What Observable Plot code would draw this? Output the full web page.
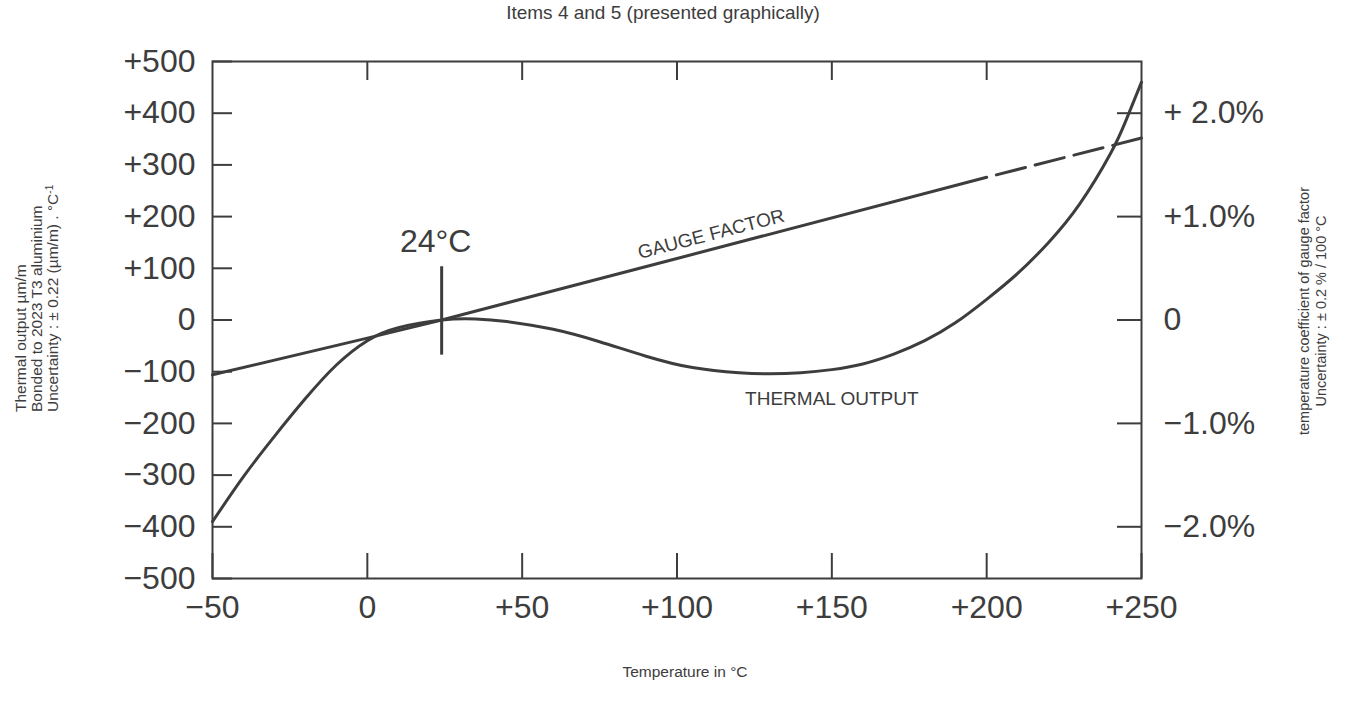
<!DOCTYPE html>
<html><head><meta charset="utf-8">
<script src="https://cdn.jsdelivr.net/npm/d3@7"></script>
<script src="https://cdn.jsdelivr.net/npm/@observablehq/plot@0.6"></script>
<style>html,body{margin:0;padding:0;background:#fff;}</style>
</head><body><div id="chart"></div>
<script>
// ---- data ----
const thermalT = [-50,-40,-30,-20,-10,0,10,24,35,45,60,75,90,105,120,130,140,150,160,170,180,190,200,210,220,230,240,245,250];
const thermalV = [-390,-303,-225,-152,-87,-40,-15,0,2,-3,-18,-42,-70,-92,-102,-104,-102,-96,-85,-66,-40,-5,40,90,150,224,322,386,460];
const gaugeT = [-50, 0, 24, 100, 200, 250];
const gaugeV = [-106, -35, 0, 119, 276, 352];
const gaugeMeasuredUpTo = 200;           // dashed beyond this temperature
const tempTicks = [-50, 0, 50, 100, 150, 200, 250];
const tempTickLabels = ["\u221250", "0", "+50", "+100", "+150", "+200", "+250"];
const thermalTicks = [500, 400, 300, 200, 100, 0, -100, -200, -300, -400, -500];
const thermalTickLabels = ["+500","+400","+300","+200","+100","0","\u2212100","\u2212200","\u2212300","\u2212400","\u2212500"];
const pctTicks = [2, 1, 0, -1, -2];
const pctTickLabels = ["+ 2.0%", "+1.0%", "0", "\u22121.0%", "\u22122.0%"];
const pctToThermal = 200;                // 1 % of gauge factor aligned with 200 µm/m
const refTemp = [24];
const refTempSpan = [-68, 103];
const refTempLabel = ["24°C"];
const refTempLabelV = [132];
const curveLabels = ["GAUGE FACTOR", "THERMAL OUTPUT"];
const curveLabelT = [111, 150];
const curveLabelV = [166, -152];
const curveLabelRotate = [-14.5, 0];

const titleText = "Items 4 and 5 (presented graphically)";
const xTitle = "Temperature in °C";
const yTitleLines = ["Thermal output \u00b5m/m", "Bonded to 2023 T3 aluminium", "Uncertainty : \u00b1 0.22 (\u00b5m/m) . °C"];
const y2TitleLines = ["temperature coefficient of gauge factor", "Uncertainty : \u00b1 0.2 % / 100 °C"];

// ---- build ----
const ink = "#3d3d3d";
const font = "'Liberation Sans', Arial, Helvetica, sans-serif";
const thermal = thermalT.map((t, i) => ({t, v: thermalV[i]}));
const gauge = gaugeT.map((t, i) => ({t, v: gaugeV[i]}));
const gaugeSolid = gauge.filter(d => d.t <= gaugeMeasuredUpTo);
const gaugeDashed = gauge.filter(d => d.t >= gaugeMeasuredUpTo);
const curveAnn = curveLabels.map((label, i) => ({label, t: curveLabelT[i], v: curveLabelV[i], r: curveLabelRotate[i]}));
const pctPos = pctTicks.map(p => p * pctToThermal);

const chart = Plot.plot({
  width: 1354, height: 709,
  marginLeft: 212, marginRight: 213, marginTop: 61, marginBottom: 131,
  style: {fontFamily: font, color: ink, background: "#fff", overflow: "visible"},
  x: {domain: [-50, 250]},
  y: {domain: [-500, 500]},
  marks: [
    Plot.frame({stroke: ink, strokeWidth: 2}),
    Plot.axisY({anchor: "left", ticks: thermalTicks, tickFormat: d => thermalTickLabels[thermalTicks.indexOf(d)],
      tickSize: -20, tickPadding: 37, fontSize: 32, strokeWidth: 2, label: null}),
    Plot.axisY({anchor: "right", ticks: pctPos, tickFormat: d => pctTickLabels[pctPos.indexOf(d)],
      tickSize: -25, tickPadding: 47, fontSize: 32, strokeWidth: 2, label: null}),
    Plot.axisX({anchor: "bottom", ticks: tempTicks, tickFormat: d => tempTickLabels[tempTicks.indexOf(d)],
      tickSize: -25, tickPadding: 42, fontSize: 32, strokeWidth: 2, label: null}),
    Plot.axisX({anchor: "top", ticks: tempTicks.slice(1, -1), tickSize: -18, fill: "none", strokeWidth: 2, label: null}),
    Plot.line(gaugeSolid, {x: "t", y: "v", stroke: ink, strokeWidth: 3}),
    Plot.line(gaugeDashed, {x: "t", y: "v", stroke: ink, strokeWidth: 3, strokeDasharray: "30,10", strokeDashoffset: 30}),
    Plot.line(thermal, {x: "t", y: "v", curve: "natural", stroke: ink, strokeWidth: 3}),
    Plot.ruleX(refTemp, {y1: refTempSpan[0], y2: refTempSpan[1], stroke: ink, strokeWidth: 3}),
    Plot.text(refTempLabel, {x: refTemp, y: refTempLabelV, text: d => d, fontSize: 32, dx: -6, fill: ink, lineAnchor: "bottom"}),
    Plot.text(curveAnn, {x: "t", y: "v", text: "label", rotate: "r", fontSize: 19, fill: ink})
  ]
});
document.getElementById("chart").appendChild(chart);

const svg = d3.select(chart);
svg.append("text").attr("x", 663).attr("y", 19).attr("text-anchor", "middle")
  .attr("font-size", 19).attr("fill", ink).attr("font-family", font).text(titleText);
svg.append("text").attr("x", 685).attr("y", 677).attr("text-anchor", "middle")
  .attr("font-size", 15.5).attr("fill", ink).attr("font-family", font).text(xTitle);
const yx = [26, 42, 58];
yTitleLines.forEach((line, i) => {
  const t = svg.append("text").attr("transform", `translate(${yx[i]},412) rotate(-90)`)
    .attr("text-anchor", "start").attr("font-size", 15.5).attr("fill", ink).attr("font-family", font);
  t.append("tspan").text(line);
  if (i === 2) t.append("tspan").attr("baseline-shift", "super").attr("font-size", 10).text("-1");
});
const y2x = [1309, 1326];
y2TitleLines.forEach((line, i) => {
  svg.append("text").attr("transform", `translate(${y2x[i]},311) rotate(-90)`)
    .attr("text-anchor", "middle").attr("font-size", 14.5).attr("fill", ink).attr("font-family", font).text(line);
});
</script>
</body></html>
